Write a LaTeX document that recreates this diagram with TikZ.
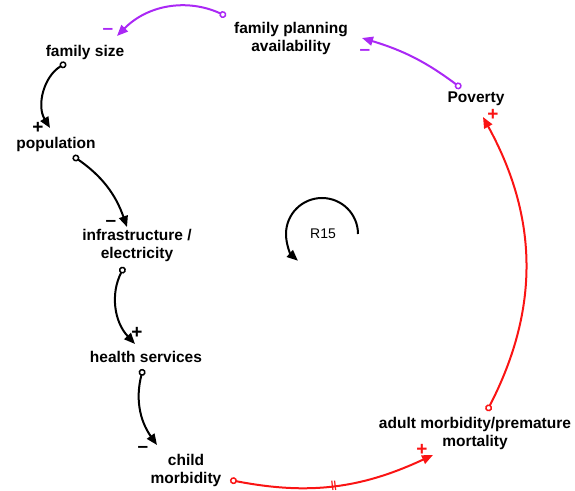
\documentclass[tikz,border=0pt]{standalone}
\usepackage{fontspec}
\setmainfont{Liberation Sans}
\usepackage{tikz}
\usetikzlibrary{calc, arrows.meta}
\definecolor{fpurple}{RGB}{170,40,245}
\definecolor{fred}{RGB}{250,20,20}
\tikzset{
	var/.style={font=\bfseries\fontsize{15.5}{18}\selectfont, align=center, inner sep=1pt},
	link/.style={line width=2pt, {Circle[open,length=7pt,width=7pt,line width=1.5pt]}-{Triangle[length=11pt,width=9pt]}},
	sign/.style={font=\bfseries\fontsize{19}{19}\selectfont, inner sep=0pt}
}
\begin{document}
\begin{tikzpicture}[x=1pt,y=1pt]
	\useasboundingbox (0,0) rectangle (575,490);
	\node[var] (fpa) at (291,452) {family planning\\availability};
	\node[var] (fs) at (85,438) {family size};
	\node[var] (pop) at (56,346) {population};
	\node[var] (infra) at (137,245) {infrastructure /\\electricity};
	\node[var] (hs) at (146,133) {health services};
	\node[var] (cm) at (186,20) {child\\morbidity};
	\node[var] (am) at (475,57) {adult morbidity/premature\\mortality};
	\node[var] (pov) at (476,391) {Poverty};
	\node[font=\fontsize{14}{14}\selectfont] (r) at (323,256) {R15};

	\draw[link, fpurple] ([shift={(-65,22)}]fpa.center) to[bend right=35] node[sign, pos=1, xshift=-9, yshift=5] (s1) {–} ([shift={(32,16)}]fs.center);
	\draw[link, fpurple] ([shift={(-15,11)}]pov.center) to[bend right=10] node[sign, pos=1, xshift=3, yshift=-14] (s2) {–} ([shift={(71,0)}]fpa.center);
	\draw[link, fred] ([shift={(12,22)}]am.center) to[bend right=28] node[sign, pos=1, xshift=10, yshift=2] (s3) {+} ([shift={(7,-18)}]pov.center);
	\draw[link, fred] ([shift={(44,-10)}]cm.center) to[bend right=18] node[pos=.5, sloped, font=\bfseries\fontsize{10}{10}\selectfont, inner sep=0pt] (d) {||} node[sign, pos=1, xshift=-11, yshift=5] (s4) {+} ([shift={(-42,-22)}]am.center);
	\draw[link] ([shift={(-19,-11)}]fs.center) to[bend right=45] node[sign, pos=1, xshift=-12, yshift=0] (s5) {+} ([shift={(-6,16)}]pop.center);
	\draw[link] ([shift={(17,-12)}]pop.center) to[bend left=18] node[sign, pos=1, xshift=-16, yshift=4, text height=7pt, text depth=0pt] (s6) {–} ([shift={(-10,18)}]infra.center);
	\draw[link] ([shift={(-13,-22)}]infra.center) to[bend right=35] node[sign, pos=1, xshift=2, yshift=11] (s7) {+} ([shift={(-11,13)}]hs.center);
	\draw[link] ([shift={(-3,-12)}]hs.center) to[bend right=25] node[sign, pos=1, xshift=-14, yshift=-4] (s8) {–} ([shift={(-29,25)}]cm.center);

	\draw[line width=2pt, -{Triangle[length=11pt,width=9pt]}] ([xshift=35]r.center) arc[start angle=0, end angle=228, radius=36pt];
\end{tikzpicture}
\end{document}
